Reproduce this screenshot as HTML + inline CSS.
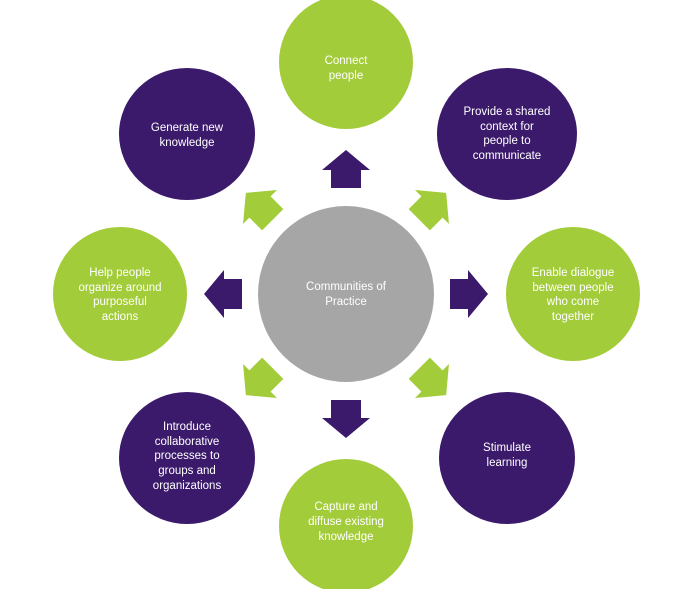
<!DOCTYPE html>
<html><head><style>
body{margin:0;background:#fff}
svg text{font-family:"Liberation Sans",sans-serif;font-size:11.5px;fill:#fff;text-anchor:middle}
</style></head><body>
<svg width="692" height="589" viewBox="0 0 692 589" xmlns="http://www.w3.org/2000/svg">
<defs>
<path id="ar" d="M-15,18 L-15,0 L-24,0 L0,-20 L24,0 L15,0 L15,18 Z"/>
</defs>
<circle cx="346" cy="294" r="88" fill="#a6a6a6"/>
<circle cx="346" cy="62" r="67" fill="#a3cc3a"/>
<ellipse cx="507" cy="134" rx="70" ry="66" fill="#3b1a6b"/>
<circle cx="573" cy="294" r="67" fill="#a3cc3a"/>
<ellipse cx="507" cy="458" rx="68" ry="66" fill="#3b1a6b"/>
<circle cx="346" cy="526" r="67" fill="#a3cc3a"/>
<ellipse cx="187" cy="458" rx="68" ry="66" fill="#3b1a6b"/>
<circle cx="120" cy="294" r="67" fill="#a3cc3a"/>
<ellipse cx="187" cy="134" rx="68" ry="66" fill="#3b1a6b"/>

<use href="#ar" fill="#3b1a6b" transform="translate(346,170)"/>
<use href="#ar" fill="#3b1a6b" transform="translate(468,294) rotate(90)"/>
<use href="#ar" fill="#3b1a6b" transform="translate(346,418) rotate(180)"/>
<use href="#ar" fill="#3b1a6b" transform="translate(224,294) rotate(-90)"/>
<use href="#ar" fill="#a3cc3a" transform="translate(432,207) rotate(45)"/>
<use href="#ar" fill="#a3cc3a" transform="translate(432,381) rotate(135)"/>
<use href="#ar" fill="#a3cc3a" transform="translate(260,381) rotate(-135)"/>
<use href="#ar" fill="#a3cc3a" transform="translate(260,207) rotate(-45)"/>

<text x="346" y="290">Communities of</text><text x="346" y="305">Practice</text>
<text x="346" y="64">Connect</text><text x="346" y="79">people</text>
<text x="507" y="115">Provide a shared</text><text x="507" y="130">context for</text><text x="507" y="144">people to</text><text x="507" y="159">communicate</text>
<text x="573" y="276">Enable dialogue</text><text x="573" y="291">between  people</text><text x="573" y="305">who come</text><text x="573" y="320">together</text>
<text x="507" y="451">Stimulate</text><text x="507" y="466">learning</text>
<text x="346" y="510">Capture and</text><text x="346" y="525">diffuse existing</text><text x="346" y="540">knowledge</text>
<text x="187" y="430">Introduce</text><text x="187" y="445">collaborative</text><text x="187" y="459">processes to</text><text x="187" y="474">groups and</text><text x="187" y="489">organizations</text>
<text x="120" y="276">Help people</text><text x="120" y="291">organize around</text><text x="120" y="305">purposeful</text><text x="120" y="320">actions</text>
<text x="187" y="131">Generate  new</text><text x="187" y="146">knowledge</text>
</svg>
</body></html>
